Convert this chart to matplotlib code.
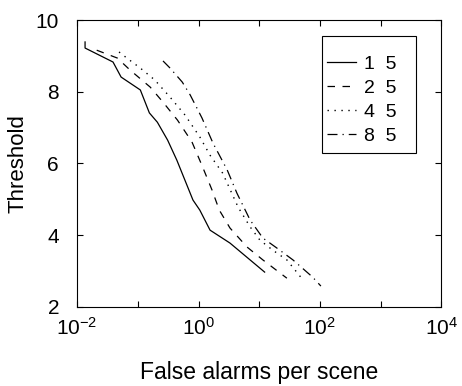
import matplotlib.pyplot as plt
from matplotlib.patches import Rectangle

plt.rcParams['font.family'] = ['Liberation Sans', 'DejaVu Sans']
plt.rcParams['mathtext.fontset'] = 'custom'
plt.rcParams['mathtext.rm'] = 'Liberation Sans'
plt.rcParams['mathtext.it'] = 'Liberation Sans:italic'

# curves (false alarms per scene, threshold)
fa_1_5 = [0.0135, 0.0135, 0.039, 0.053, 0.11, 0.155, 0.21, 0.31, 0.44, 0.81, 1.05, 1.55, 3.3, 12.3]
th_1_5 = [9.39, 9.22, 8.83, 8.41, 8.05, 7.41, 7.15, 6.65, 6.09, 4.98, 4.70, 4.14, 3.78, 2.97]

fa_2_5 = [0.021, 0.046, 0.074, 0.16, 0.26, 0.45, 0.78, 1.17, 1.67, 2.2, 3.3, 6.3, 11.5, 28.6]
th_2_5 = [9.16, 8.94, 8.61, 8.13, 7.71, 7.21, 6.60, 5.90, 5.26, 4.70, 4.20, 3.67, 3.31, 2.80]

fa_4_5 = [0.049, 0.066, 0.11, 0.19, 0.34, 0.60, 1.05, 1.55, 2.5, 4.5, 7.1, 10.3, 16.8, 28.6, 50]
th_4_5 = [9.11, 8.94, 8.66, 8.33, 7.85, 7.35, 6.74, 6.23, 5.73, 4.78, 4.23, 3.86, 3.58, 3.31, 2.80]

fa_8_5 = [0.26, 0.34, 0.54, 0.73, 1.14, 1.73, 2.97, 4.3, 7.1, 11.5, 19.6, 36, 76, 104]
th_8_5 = [8.86, 8.66, 8.27, 7.91, 7.27, 6.57, 5.82, 5.17, 4.42, 3.92, 3.64, 3.31, 2.83, 2.58]

labels = ["1  5", "2  5", "4  5", "8  5"]
xticks = [1e-2, 1e-1, 1e0, 1e1, 1e2, 1e3, 1e4]
xticklabels = ['$10^{-2}$', '', '$10^{0}$', '', '$10^{2}$', '', '$10^{4}$']
yticks = [2, 4, 6, 8, 10]

fig = plt.figure(figsize=(4.62, 3.86), dpi=100)
ax = fig.add_axes([0.167, 0.205, 0.788, 0.743])

ax.plot(fa_1_5, th_1_5, color='black', lw=0.9, ls='-', label=labels[0])
ax.plot(fa_2_5, th_2_5, color='black', lw=0.9, ls=(0, (6, 6)), label=labels[1])
ax.plot(fa_4_5, th_4_5, color='black', lw=1.0, ls=(0, (1, 4)), label=labels[2])
ax.plot(fa_8_5, th_8_5, color='black', lw=0.9, ls=(0, (8, 4, 1, 4)), label=labels[3])

ax.set_xscale('log')
ax.set_xlim(1e-2, 1e4)
ax.set_ylim(2, 10)
ax.set_xticks(xticks)
ax.set_xticklabels(xticklabels)
ax.minorticks_off()
ax.set_yticks(yticks)
ax.tick_params(direction='in', top=True, right=True, labelsize=15, length=4, width=0.8)
ax.tick_params(axis='x', pad=7)
ax.tick_params(axis='y', pad=13)

ax.set_xlabel('False alarms per scene', fontsize=16.5, labelpad=16)
ax.set_ylabel('Threshold', fontsize=16, labelpad=5)

# legend without frame, box drawn separately (reference has uneven padding)
leg = ax.legend(loc='upper left', bbox_to_anchor=(0.687, 0.878), fontsize=14, handlelength=1.5,
                handletextpad=0.4, frameon=False, borderpad=0, borderaxespad=0, labelspacing=0.33)
ax.add_patch(Rectangle((0.673, 0.537), 0.258, 0.408, transform=ax.transAxes,
                       fill=False, edgecolor='black', lw=0.8, zorder=5))

fig.savefig('out.png', dpi=100)
